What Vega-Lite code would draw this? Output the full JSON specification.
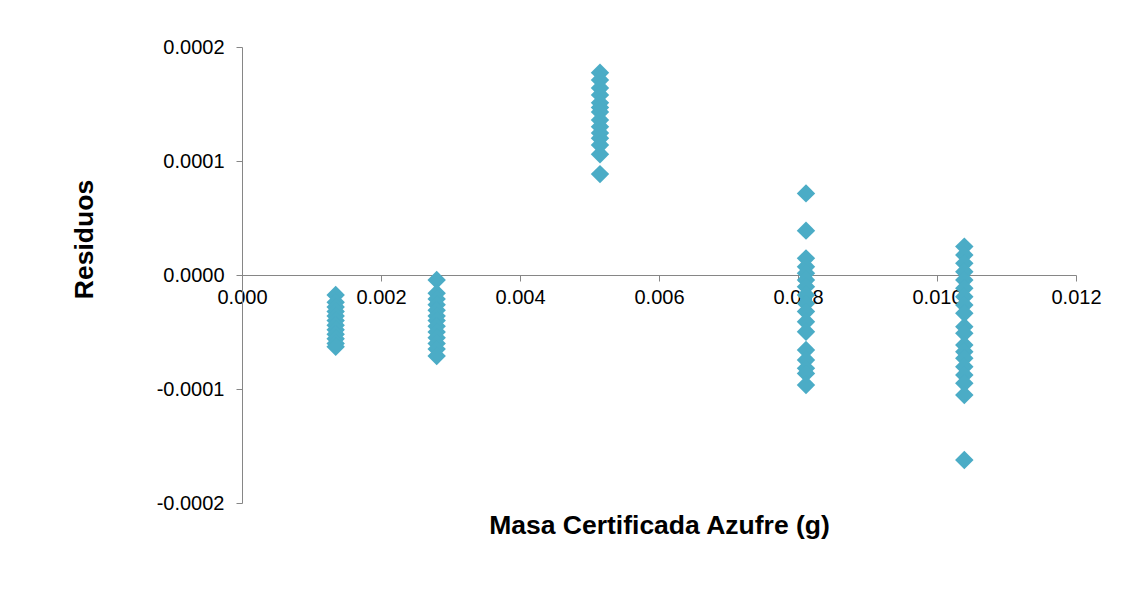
{
  "$schema": "https://vega.github.io/schema/vega-lite/v6.json",
  "autosize": {"type": "none"},
  "width": 834,
  "height": 456,
  "padding": {"left": 242, "top": 47, "right": 54, "bottom": 108},
  "background": "white",
  "config": {
    "view": {"stroke": null},
    "locale": {"number": {"decimal": ".", "thousands": ",", "grouping": [3], "currency": ["$", ""], "minus": "-"}},
    "axis": {"grid": false, "domainColor": "#868686", "tickColor": "#868686", "labelColor": "#000000", "labelFont": "Liberation Sans", "titleFont": "Liberation Sans", "titleColor": "#000000"}
  },
  "data": {
    "values": [
      {"x": 0.001348, "y": -0.0000175},
      {"x": 0.001348, "y": -0.000024},
      {"x": 0.001348, "y": -0.000028},
      {"x": 0.001348, "y": -0.000032},
      {"x": 0.001348, "y": -0.000036},
      {"x": 0.001348, "y": -0.00004},
      {"x": 0.001348, "y": -0.000044},
      {"x": 0.001348, "y": -0.000048},
      {"x": 0.001348, "y": -0.000052},
      {"x": 0.001348, "y": -0.000056},
      {"x": 0.001348, "y": -0.00006},
      {"x": 0.001348, "y": -0.000063},
      {"x": 0.002801, "y": -0.0000044},
      {"x": 0.002801, "y": -0.000016},
      {"x": 0.002801, "y": -0.000021},
      {"x": 0.002801, "y": -0.000026},
      {"x": 0.002801, "y": -0.000031},
      {"x": 0.002801, "y": -0.000036},
      {"x": 0.002801, "y": -0.00004},
      {"x": 0.002801, "y": -0.000045},
      {"x": 0.002801, "y": -0.00005},
      {"x": 0.002801, "y": -0.000055},
      {"x": 0.002801, "y": -0.00006},
      {"x": 0.002801, "y": -0.000065},
      {"x": 0.002801, "y": -0.000071},
      {"x": 0.005151, "y": 0.0001775},
      {"x": 0.005151, "y": 0.000171},
      {"x": 0.005151, "y": 0.000164},
      {"x": 0.005151, "y": 0.000158},
      {"x": 0.005151, "y": 0.000151},
      {"x": 0.005151, "y": 0.000147},
      {"x": 0.005151, "y": 0.000143},
      {"x": 0.005151, "y": 0.000136},
      {"x": 0.005151, "y": 0.00013},
      {"x": 0.005151, "y": 0.0001246},
      {"x": 0.005151, "y": 0.00012},
      {"x": 0.005151, "y": 0.000114},
      {"x": 0.005151, "y": 0.000106},
      {"x": 0.005151, "y": 0.0000885},
      {"x": 0.008115, "y": 0.0000716},
      {"x": 0.008115, "y": 0.0000389},
      {"x": 0.008115, "y": 0.0000146},
      {"x": 0.008115, "y": 0.0000073},
      {"x": 0.008115, "y": 0.0000015},
      {"x": 0.008115, "y": -0.0000044},
      {"x": 0.008115, "y": -0.0000102},
      {"x": 0.008115, "y": -0.0000175},
      {"x": 0.008115, "y": -0.0000249},
      {"x": 0.008115, "y": -0.000032},
      {"x": 0.008115, "y": -0.000041},
      {"x": 0.008115, "y": -0.0000497},
      {"x": 0.008115, "y": -0.0000658},
      {"x": 0.008115, "y": -0.0000746},
      {"x": 0.008115, "y": -0.0000819},
      {"x": 0.008115, "y": -0.0000863},
      {"x": 0.008115, "y": -0.0000965},
      {"x": 0.010393, "y": 0.0000249},
      {"x": 0.010393, "y": 0.0000175},
      {"x": 0.010393, "y": 0.0000102},
      {"x": 0.010393, "y": 0.0000029},
      {"x": 0.010393, "y": -0.0000044},
      {"x": 0.010393, "y": -0.0000117},
      {"x": 0.010393, "y": -0.000019},
      {"x": 0.010393, "y": -0.0000263},
      {"x": 0.010393, "y": -0.0000336},
      {"x": 0.010393, "y": -0.0000453},
      {"x": 0.010393, "y": -0.0000512},
      {"x": 0.010393, "y": -0.0000614},
      {"x": 0.010393, "y": -0.0000673},
      {"x": 0.010393, "y": -0.0000731},
      {"x": 0.010393, "y": -0.0000804},
      {"x": 0.010393, "y": -0.0000877},
      {"x": 0.010393, "y": -0.000095},
      {"x": 0.010393, "y": -0.0001053},
      {"x": 0.010393, "y": -0.0001623}
    ]
  },
  "mark": {"type": "point", "shape": "diamond", "filled": true, "size": 340, "color": "#4bacc6", "opacity": 1},
  "encoding": {
    "x": {
      "field": "x", "type": "quantitative",
      "scale": {"domain": [0, 0.012], "nice": false, "zero": false},
      "axis": {
        "title": "Masa Certificada Azufre (g)",
        "values": [0, 0.002, 0.004, 0.006, 0.008, 0.01, 0.012],
        "format": ".3f",
        "offset": -228,
        "labelFontSize": 20,
        "labelPadding": 6,
        "tickSize": 6,
        "labelFlush": false,
        "titleFontSize": 26.5,
        "titleFontWeight": "bold",
        "titleX": 417,
        "titleY": 250,
        "titleBaseline": "middle",
        "titleAlign": "center"
      }
    },
    "y": {
      "field": "y", "type": "quantitative",
      "scale": {"domain": [-0.0002, 0.0002], "nice": false, "zero": false},
      "axis": {
        "title": "Residuos",
        "values": [-0.0002, -0.0001, 0, 0.0001, 0.0002],
        "format": ".4f",
        "labelFontSize": 20,
        "labelPadding": 12,
        "tickSize": 6,
        "labelFlush": false,
        "titleFontSize": 26.5,
        "titleFontWeight": "bold",
        "titleAngle": 270,
        "titleX": -158,
        "titleY": 192,
        "titleBaseline": "middle",
        "titleAlign": "center"
      }
    }
  }
}
